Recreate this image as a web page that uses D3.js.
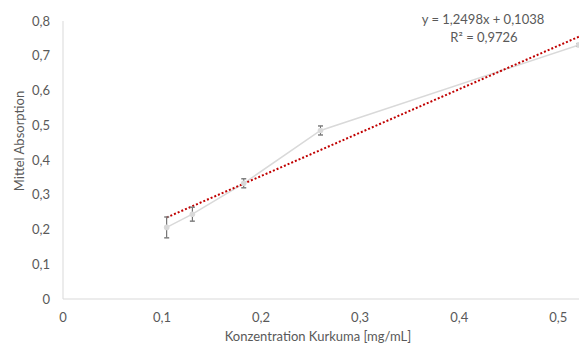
<!DOCTYPE html>
<html><head><meta charset="utf-8">
<script src="https://cdn.jsdelivr.net/npm/d3@7"></script>
<style>body{margin:0;background:#fff}svg{display:block}text{font-family:Lato,"Open Sans",sans-serif;fill:#595959}</style>
</head><body><svg id="c" width="579" height="347"></svg>
<script>
const xs = [0.1047, 0.1306, 0.1825, 0.260, 0.521];
const ys = [0.206, 0.244, 0.333, 0.485, 0.731];
const errs = [0.030, 0.020, 0.013, 0.013, 0.004];
const xTicks = [0, 0.1, 0.2, 0.3, 0.4, 0.5];
const yTicks = [0, 0.1, 0.2, 0.3, 0.4, 0.5, 0.6, 0.7, 0.8];
const slope = 1.2498, intercept = 0.1038;
const eqText = "y = 1,2498x + 0,1038";
const r2Text = "R² = 0,9726";

const svg = d3.select("#c");
const x = d3.scaleLinear().domain([0, 0.521]).range([63, 579]);
const y = d3.scaleLinear().domain([0, 0.8]).range([299, 21]);
const fmt = d => d === 0 ? "0" : d3.format(".1f")(d).replace(".", ",");
const fs = 13;

// axes lines
svg.append("line").attr("x1", x(0)).attr("x2", 579).attr("y1", y(0)).attr("y2", y(0)).attr("stroke", "#d9d9d9");
svg.append("line").attr("x1", x(0)).attr("x2", x(0)).attr("y1", y(0)).attr("y2", y(0.8)).attr("stroke", "#d9d9d9");

svg.selectAll(".yt").data(yTicks).join("text").attr("x", 50).attr("y", d => y(d) + 4.5)
  .attr("text-anchor", "end").attr("font-size", fs).text(fmt);
svg.selectAll(".xt").data(xTicks).join("text").attr("x", d => x(d)).attr("y", 322)
  .attr("text-anchor", "middle").attr("font-size", fs).text(fmt);

svg.append("text").attr("x", 318).attr("y", 341).attr("text-anchor", "middle").attr("font-size", fs).text("Konzentration Kurkuma [mg/mL]");
svg.append("text").attr("transform", "translate(24,141) rotate(-90)").attr("text-anchor", "middle").attr("font-size", fs).text("Mittel Absorption");

const pts = xs.map((v, i) => ({x: v, y: ys[i], e: errs[i]}));
// data line
svg.append("path").datum(pts).attr("fill", "none").attr("stroke", "#d9d9d9").attr("stroke-width", 1.5)
  .attr("d", d3.line().x(d => x(d.x)).y(d => y(d.y)));
// trend
const tx0 = xs[0], tx1 = 0.521;
svg.append("line").attr("x1", x(tx0)).attr("y1", y(slope * tx0 + intercept))
  .attr("x2", x(tx1)).attr("y2", y(slope * tx1 + intercept))
  .attr("stroke", "#c00000").attr("stroke-width", 2).attr("stroke-dasharray", "2,2");
// error bars
const eb = svg.selectAll(".eb").data(pts).join("g");
eb.append("line").attr("x1", d => x(d.x)).attr("x2", d => x(d.x)).attr("y1", d => y(d.y - d.e)).attr("y2", d => y(d.y + d.e)).attr("stroke", "#595959").attr("stroke-width", 1);
eb.append("line").attr("x1", d => x(d.x) - 2.5).attr("x2", d => x(d.x) + 2.5).attr("y1", d => y(d.y - d.e)).attr("y2", d => y(d.y - d.e)).attr("stroke", "#808080").attr("stroke-width", 1.5);
eb.append("line").attr("x1", d => x(d.x) - 2.5).attr("x2", d => x(d.x) + 2.5).attr("y1", d => y(d.y + d.e)).attr("y2", d => y(d.y + d.e)).attr("stroke", "#808080").attr("stroke-width", 1.5);
// markers
svg.selectAll(".pt").data(pts).join("circle").attr("cx", d => x(d.x)).attr("cy", d => y(d.y)).attr("r", 2.8).attr("fill", "#d9d9d9");

svg.append("text").attr("x", 483).attr("y", 24).attr("text-anchor", "middle").attr("font-size", fs).text(eqText);
svg.append("text").attr("x", 484).attr("y", 42).attr("text-anchor", "middle").attr("font-size", fs).text(r2Text);
</script></body></html>
